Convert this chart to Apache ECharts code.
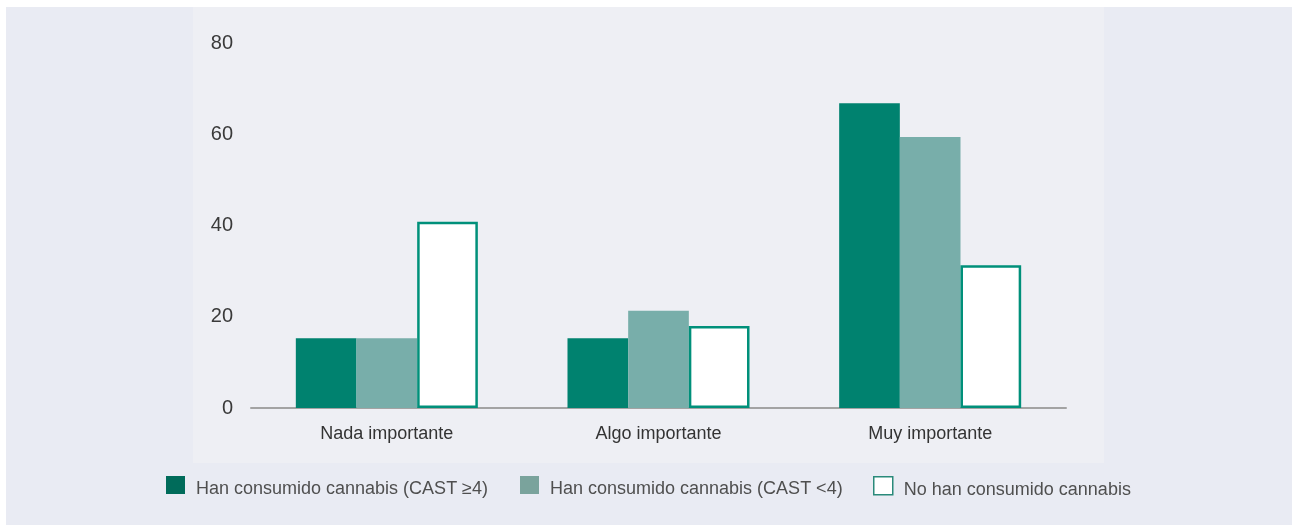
<!DOCTYPE html>
<html>
<head>
<meta charset="utf-8">
<script src="https://cdn.jsdelivr.net/npm/echarts@6/dist/echarts.min.js"></script>
<style>
html,body{margin:0;padding:0;background:#ffffff;}
#chart{width:1292px;height:525px;}
</style>
</head>
<body>
<div id="chart"></div>
<script>
const categories = ['Nada importante', 'Algo importante', 'Muy importante'];
const seriesNames = ['Han consumido cannabis (CAST ≥4)', 'Han consumido cannabis (CAST <4)', 'No han consumido cannabis'];
const castHigh = [15.3, 15.3, 66.8];
const castLow = [15.3, 21.3, 59.4];
const noCannabis = [40.8, 18.0, 31.3];
const yTicks = [0, 20, 40, 60, 80];

const font = '"Liberation Sans", Arial, Helvetica, sans-serif';
const chart = echarts.init(document.getElementById('chart'));

function legendFor(name, left, color, border) {
  return {
    left: left, top: 476, orient: 'horizontal', padding: 0,
    itemWidth: 19, itemHeight: 18, itemGap: 0,
    icon: 'rect',
    formatter: '{t|{name}}',
    textStyle: {fontFamily: font, fontSize: 18, color: '#4f4f4f',
      rich: {t: {fontFamily: font, fontSize: 18, color: '#4f4f4f', padding: [8, 0, 0, 6]}}},
    data: [{name: name, itemStyle: {color: color, borderColor: border, borderWidth: border ? 1.5 : 0}}],
    selectedMode: false
  };
}

chart.setOption({
  backgroundColor: '#ffffff',
  animation: false,
  graphic: [
    {type: 'rect', silent: true, z: -10, shape: {x: 6, y: 7, width: 1286, height: 518}, style: {fill: '#e9ebf3'}},
    {type: 'rect', silent: true, z: -9, shape: {x: 193, y: 7, width: 911, height: 456}, style: {fill: '#eeeff4'}}
  ],
  grid: {left: 251, right: 226, top: 43, bottom: 117, containLabel: false},
  legend: [
    legendFor(seriesNames[0], 166, '#006b5a', null),
    legendFor(seriesNames[1], 520, '#7aa39c', null),
    legendFor(seriesNames[2], 873, '#ffffff', '#2a8a7a')
  ],
  xAxis: {
    type: 'category',
    data: categories,
    axisLine: {lineStyle: {color: '#a3a3a3', width: 2}},
    axisTick: {show: false},
    axisLabel: {fontFamily: font, fontSize: 18, color: '#333333', margin: 17}
  },
  yAxis: {
    type: 'value', min: 0, max: 80, interval: 20,
    axisLine: {show: false}, axisTick: {show: false},
    splitLine: {show: false},
    axisLabel: {fontFamily: font, fontSize: 20, color: '#3a3a3a', margin: 18,
      formatter: v => yTicks.includes(v) ? String(v) : ''}
  },
  series: [
    {name: seriesNames[0], type: 'bar', data: castHigh, barGap: '0%', barCategoryGap: '33%',
     itemStyle: {color: '#00826f'}},
    {name: seriesNames[1], type: 'bar', data: castLow,
     itemStyle: {color: '#78aeaa'}},
    {name: seriesNames[2], type: 'bar', data: noCannabis,
     itemStyle: {color: '#ffffff', borderColor: '#00907a', borderWidth: 2.5}}
  ]
});
</script>
</body>
</html>
